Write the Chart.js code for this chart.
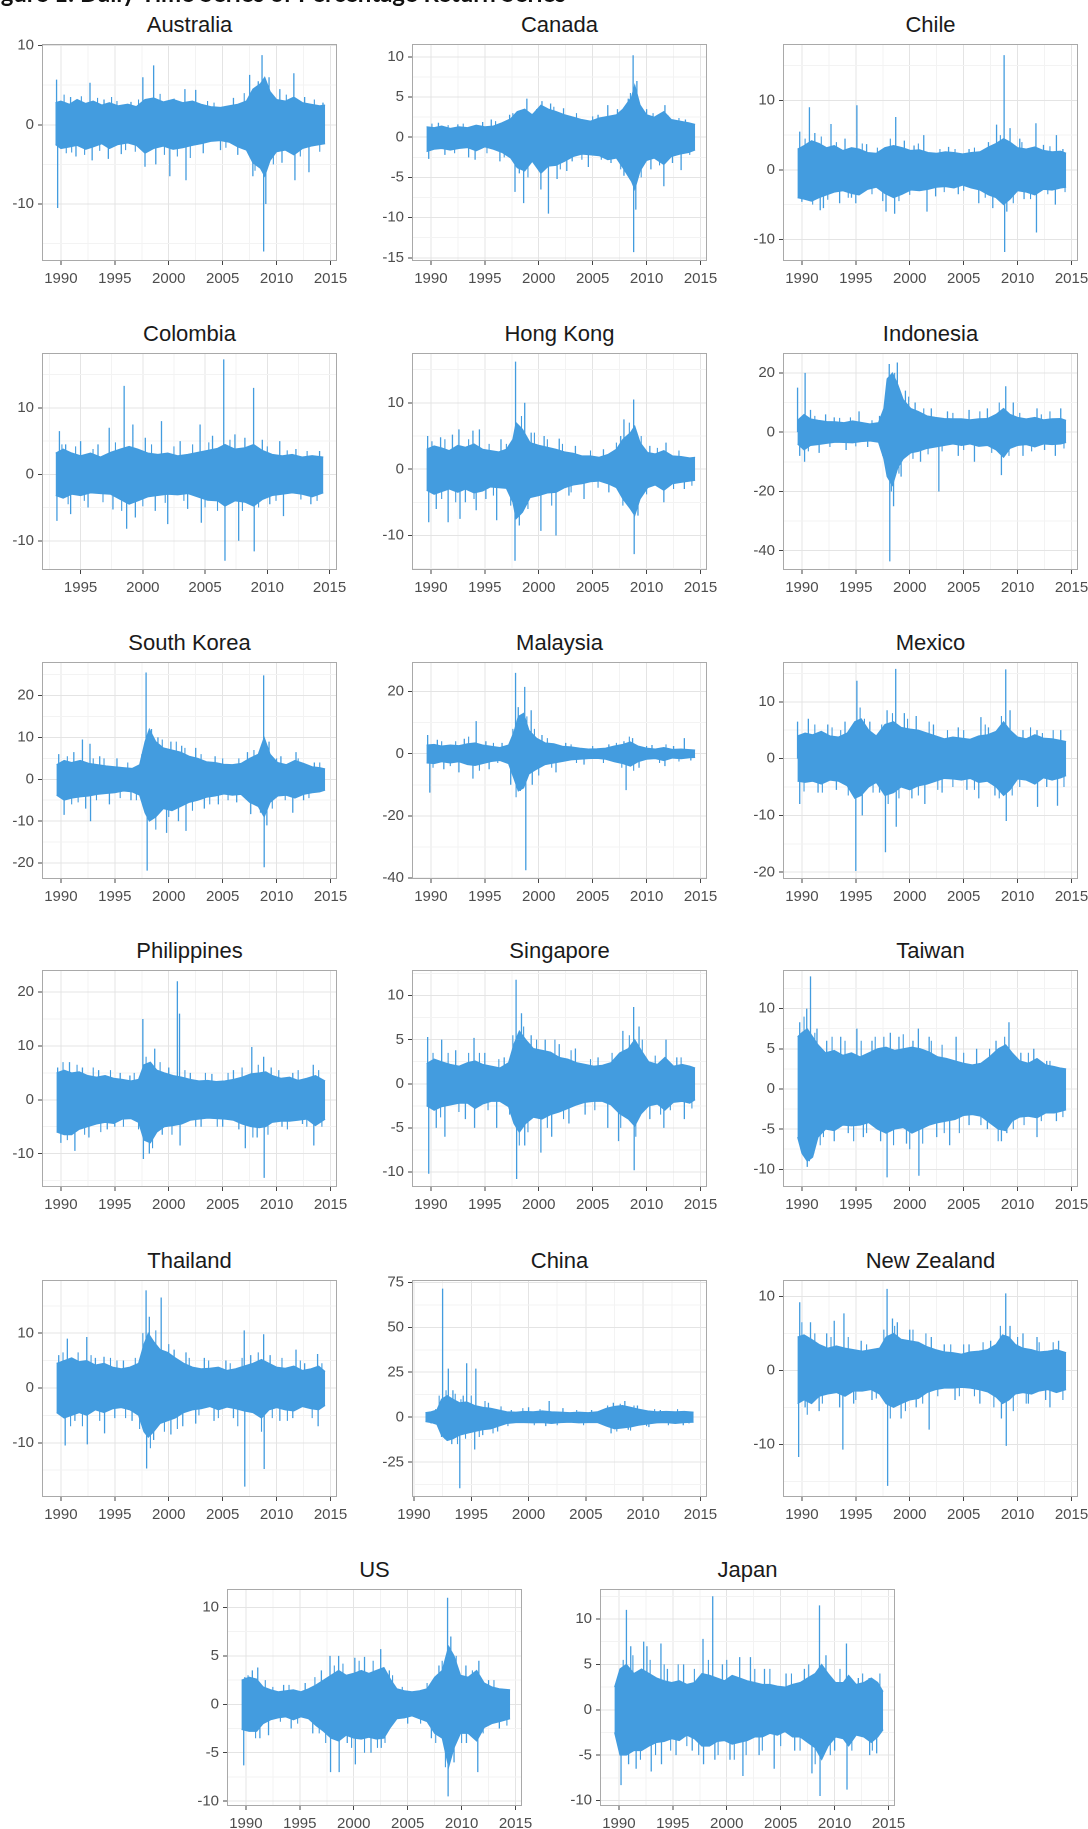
<!DOCTYPE html>
<html><head><meta charset="utf-8">
<script src="https://cdn.jsdelivr.net/npm/chart.js@4.4.1/dist/chart.umd.min.js"></script>
<style>
html,body{margin:0;padding:0;background:#fff;}
body{width:1088px;height:1829px;position:relative;overflow:hidden;font-family:"Liberation Sans",Arial,sans-serif;}
.ttl{position:absolute;font-size:22px;line-height:22px;color:#1a1a1a;text-align:center;white-space:nowrap;}
canvas{position:absolute;}
</style></head><body>
<canvas id="fig" width="1088" height="12" style="left:0;top:0;width:1088px;height:12px"></canvas>
<script>
// ---------- DATA (years, percentage returns) ----------
// *_band  = [year, upper envelope, lower envelope] of the dense daily return band
// *_spikes / *_minor = [year, extreme daily return]
const AUS_band=[[1989.5,2.8,-2.5],[1990.0,3.0,-3.0],[1990.8,2.6,-2.8],[1991.5,3.2,-2.6],[1992.3,2.7,-3.1],[1993.0,3.0,-2.8],[1993.8,2.5,-2.4],[1994.5,2.8,-3.0],[1995.3,2.4,-2.5],[1996.2,2.6,-2.3],[1997.0,2.3,-2.6],[1997.8,3.2,-3.6],[1998.6,3.4,-3.0],[1999.5,2.9,-2.7],[2000.4,3.2,-3.1],[2001.3,2.8,-2.9],[2002.2,3.0,-2.6],[2003.0,2.6,-2.4],[2003.9,2.3,-2.1],[2004.8,2.2,-2.0],[2005.6,2.4,-2.2],[2006.4,2.6,-2.8],[2007.2,3.0,-3.2],[2007.8,4.5,-4.8],[2008.5,5.2,-5.5],[2008.9,6.0,-6.5],[2009.4,4.2,-4.5],[2010.0,3.2,-3.4],[2010.8,3.0,-3.2],[2011.6,3.5,-3.8],[2012.4,2.8,-3.0],[2013.2,2.6,-2.7],[2014.0,2.4,-2.5],[2014.5,2.5,-2.4]];
const AUS_spikes=[[1989.6,5.7],[1989.7,-10.5],[1990.9,3.5],[1991.4,-4.0],[1992.7,5.3],[1992.9,-4.5],[1994.0,3.2],[1994.4,-4.3],[1995.6,-3.7],[1996.5,2.9],[1997.6,6.0],[1997.8,-5.3],[1998.6,7.5],[1998.8,-5.0],[2000.1,-6.5],[2000.5,3.3],[2001.5,4.5],[2001.6,-7.0],[2002.5,4.4],[2003.2,-3.6],[2004.8,-3.2],[2006.0,3.4],[2006.4,-3.8],[2007.5,6.3],[2007.8,-6.5],[2008.3,5.5],[2008.65,8.8],[2008.8,-16.0],[2009.0,-10.0],[2009.3,6.0],[2010.3,4.5],[2010.5,-4.8],[2011.6,6.5],[2011.7,-7.0],[2012.6,3.5],[2013.0,-6.0],[2014.3,2.8]];
const AUS_minor=[[1990.3,3.8],[1990.5,-3.6],[1991.0,-3.5],[1991.9,3.6],[1992.2,-3.8],[1993.4,3.4],[1993.6,-3.3],[1994.7,3.5],[1995.2,3.0],[1996.0,-3.2],[1996.9,-3.4],[1997.2,3.2],[1999.2,3.9],[1999.6,-3.8],[2000.8,-4.0],[2002.0,-4.2],[2003.6,3.0],[2004.2,2.8],[2005.3,-2.9],[2007.0,4.0],[2008.0,-5.8],[2009.7,-5.0],[2010.9,3.8],[2012.2,-4.0],[2013.5,3.2],[2014.0,-3.4]];

const CAN_band=[[1989.6,1.3,-1.8],[1990.3,1.2,-1.5],[1991.0,1.4,-1.4],[1991.8,1.1,-1.6],[1992.6,1.3,-1.4],[1993.4,1.2,-1.3],[1994.2,1.5,-1.7],[1995.0,1.3,-1.2],[1995.8,1.4,-1.5],[1996.6,1.8,-1.9],[1997.4,2.3,-2.6],[1998.0,3.2,-3.8],[1998.7,3.5,-4.2],[1999.4,2.8,-3.0],[2000.2,4.0,-4.5],[2000.9,3.5,-3.6],[2001.6,3.2,-3.5],[2002.4,2.8,-3.0],[2003.2,2.5,-2.4],[2004.0,2.2,-2.1],[2004.8,2.0,-2.2],[2005.6,2.4,-2.3],[2006.4,2.6,-2.8],[2007.2,2.8,-2.6],[2007.8,3.5,-3.8],[2008.6,5.0,-5.5],[2008.9,6.5,-6.5],[2009.4,4.0,-4.2],[2010.0,2.8,-2.9],[2010.7,2.5,-2.6],[2011.6,3.2,-3.4],[2012.3,2.2,-2.4],[2013.1,2.0,-2.1],[2013.9,1.8,-1.9],[2014.5,1.6,-1.6]];
const CAN_spikes=[[1989.8,-2.7],[1990.7,1.8],[1991.3,-2.2],[1992.5,1.6],[1993.5,-2.5],[1994.1,-2.8],[1994.8,1.9],[1995.6,2.2],[1996.4,-3.0],[1997.3,2.8],[1997.8,-6.8],[1998.2,-4.5],[1998.6,-8.2],[1998.9,4.8],[1999.5,3.0],[2000.2,-6.5],[2000.3,4.5],[2000.9,-9.5],[2001.1,4.2],[2001.7,-5.2],[2002.3,3.6],[2002.6,-4.2],[2003.1,-3.0],[2004.6,-3.7],[2005.5,2.8],[2006.4,4.0],[2006.7,-3.2],[2007.3,3.5],[2007.9,-4.8],[2008.3,4.8],[2008.75,10.2],[2008.8,-14.3],[2009.0,-9.0],[2009.1,7.0],[2010.0,3.5],[2010.4,-4.0],[2011.7,4.0],[2011.6,-6.1],[2012.4,-3.2],[2013.2,-4.1],[2013.6,2.2]];
const CAN_minor=[[1990.1,1.7],[1991.6,1.5],[1992.2,-2.0],[1993.0,1.7],[1995.2,-2.0],[1996.0,2.0],[1996.8,-2.5],[1997.6,3.0],[1999.0,-5.0],[1999.8,3.5],[2001.4,3.8],[2002.0,-4.0],[2003.5,3.0],[2004.0,-2.8],[2005.0,2.6],[2005.8,-2.8],[2007.6,-4.0],[2008.5,5.5],[2009.5,-5.0],[2010.6,3.0],[2011.2,-3.5],[2012.0,2.7],[2013.0,2.4],[2014.0,-2.2]];

const CHL_band=[[1989.6,3.0,-4.0],[1990.2,3.5,-4.2],[1990.9,4.2,-4.5],[1991.6,3.8,-4.0],[1992.3,3.2,-3.6],[1993.0,3.5,-3.2],[1993.8,2.8,-3.0],[1994.6,3.2,-3.4],[1995.3,3.0,-3.6],[1996.1,2.5,-2.8],[1996.9,2.4,-2.5],[1997.7,3.2,-3.4],[1998.5,3.5,-4.0],[1999.3,3.2,-3.5],[2000.1,2.8,-2.9],[2000.9,2.9,-3.0],[2001.7,2.5,-2.8],[2002.5,2.4,-2.5],[2003.3,2.6,-2.4],[2004.1,2.5,-2.6],[2004.9,2.3,-2.2],[2005.7,2.5,-2.6],[2006.5,2.6,-2.9],[2007.3,3.3,-3.6],[2008.0,3.8,-4.0],[2008.7,4.5,-5.0],[2009.3,4.0,-4.2],[2010.0,3.2,-3.0],[2010.8,3.0,-3.2],[2011.6,3.3,-3.6],[2012.4,2.8,-2.8],[2013.2,2.6,-2.9],[2014.0,2.7,-2.6],[2014.5,2.4,-2.5]];
const CHL_spikes=[[1989.8,5.5],[1990.0,-4.6],[1990.7,9.0],[1991.2,5.3],[1991.7,-5.8],[1992.0,-5.5],[1992.7,6.6],[1993.5,-4.8],[1994.0,4.5],[1994.6,-4.0],[1995.1,9.3],[1995.0,-4.8],[1996.0,3.7],[1997.5,-4.5],[1997.8,-6.0],[1998.6,-6.3],[1998.7,7.6],[1999.5,4.2],[2000.4,3.5],[2001.3,5.0],[2001.6,-6.0],[2002.4,-3.8],[2003.6,3.3],[2004.5,-3.5],[2005.5,3.0],[2006.4,-4.8],[2007.3,4.0],[2007.7,-5.5],[2008.05,6.5],[2008.75,16.5],[2008.8,-11.8],[2009.0,-6.0],[2009.3,6.0],[2010.2,4.5],[2010.6,-4.2],[2011.7,6.7],[2011.75,-9.0],[2012.4,3.6],[2013.6,5.0],[2013.5,-5.0],[2014.2,3.0]];
const CHL_minor=[[1990.3,4.5],[1991.0,-5.0],[1991.8,4.8],[1992.4,-4.3],[1993.2,4.0],[1994.3,-4.0],[1995.6,3.8],[1996.5,-3.5],[1997.0,3.2],[1998.2,4.5],[1999.0,-4.5],[2000.0,-3.6],[2000.8,3.8],[2002.8,3.0],[2003.2,-3.2],[2004.2,3.0],[2005.0,-3.0],[2006.0,3.2],[2007.0,-4.0],[2008.4,5.0],[2009.6,-4.8],[2010.4,4.0],[2011.2,-4.2],[2012.8,-3.5],[2013.0,3.4],[2014.4,-3.2]];

const COL_band=[[1993.0,3.2,-3.2],[1993.6,3.8,-3.6],[1994.3,3.2,-3.0],[1995.0,2.8,-3.2],[1995.8,3.2,-2.8],[1996.6,2.6,-2.9],[1997.4,3.3,-3.0],[1998.2,3.8,-3.8],[1998.9,4.2,-4.5],[1999.6,3.8,-4.0],[2000.4,3.2,-3.4],[2001.2,3.0,-3.2],[2002.0,3.2,-3.0],[2002.8,2.8,-3.1],[2003.6,3.0,-2.9],[2004.4,3.3,-3.4],[2005.2,3.6,-3.9],[2006.0,3.9,-4.0],[2006.6,4.5,-4.8],[2007.4,3.8,-4.0],[2008.2,4.0,-4.2],[2008.9,4.5,-4.8],[2009.6,3.6,-3.8],[2010.4,3.0,-3.2],[2011.2,2.8,-3.0],[2012.0,3.0,-2.8],[2012.8,2.6,-3.0],[2013.6,2.8,-3.4],[2014.5,2.6,-2.8]];
const COL_spikes=[[1993.1,-7.0],[1993.3,6.5],[1993.8,4.5],[1994.2,-6.0],[1995.0,5.0],[1995.6,-5.0],[1996.4,4.5],[1997.3,7.0],[1997.6,-5.3],[1998.5,13.3],[1998.7,-8.2],[1999.2,7.5],[1999.4,-6.5],[2000.2,5.5],[2001.0,-5.5],[2001.5,8.0],[2002.0,-7.5],[2003.0,5.0],[2003.6,-5.2],[2004.6,7.5],[2004.7,-7.3],[2005.6,5.8],[2006.5,17.3],[2006.6,-13.0],[2007.4,6.0],[2007.7,-10.0],[2008.2,5.5],[2008.9,13.0],[2008.95,-11.6],[2009.6,5.2],[2010.2,-4.5],[2011.0,5.0],[2011.3,-6.3],[2012.3,3.8],[2013.5,-4.5],[2014.2,3.5]];
const COL_minor=[[1993.5,4.5],[1994.0,-4.5],[1994.6,4.2],[1995.3,-4.0],[1996.0,3.8],[1996.8,-4.2],[1997.8,4.8],[1998.3,-5.5],[2000.0,-4.8],[2000.7,4.5],[2001.8,-4.3],[2002.5,4.2],[2003.3,-4.0],[2004.0,4.5],[2005.0,-5.0],[2005.3,4.8],[2006.0,-5.5],[2007.0,5.2],[2008.0,-5.5],[2009.3,-5.0],[2010.0,4.2],[2010.7,-4.0],[2011.6,3.6],[2012.7,-3.8],[2013.2,3.5],[2014.0,-4.0]];

const HKG_band=[[1989.6,3.0,-3.2],[1990.3,3.5,-3.8],[1991.0,3.2,-3.4],[1991.7,2.8,-3.0],[1992.5,3.6,-3.5],[1993.2,3.3,-3.0],[1994.0,3.8,-3.6],[1994.8,3.0,-3.3],[1995.5,2.8,-2.7],[1996.3,2.6,-2.8],[1997.0,3.0,-2.9],[1997.6,4.5,-5.0],[1997.9,7.0,-7.5],[1998.5,6.0,-6.5],[1999.2,4.0,-4.3],[2000.0,3.6,-4.0],[2000.8,3.3,-3.6],[2001.6,3.0,-3.5],[2002.4,2.6,-2.8],[2003.2,2.4,-2.4],[2004.0,2.0,-2.2],[2004.8,2.0,-1.9],[2005.6,1.8,-1.8],[2006.4,2.2,-2.2],[2007.2,3.0,-2.8],[2007.8,4.5,-4.5],[2008.5,5.5,-6.0],[2008.9,6.5,-7.0],[2009.4,4.0,-4.5],[2010.1,2.5,-2.8],[2010.8,2.3,-2.4],[2011.6,2.8,-3.2],[2012.4,2.0,-2.2],[2013.2,1.9,-2.0],[2014.0,1.7,-1.8],[2014.5,1.8,-1.7]];
const HKG_spikes=[[1989.7,5.0],[1989.8,-8.0],[1990.5,-6.0],[1990.9,4.8],[1991.6,-8.0],[1992.0,5.2],[1992.6,6.0],[1992.7,-7.5],[1993.2,-5.0],[1993.9,5.8],[1994.5,6.0],[1994.2,-6.2],[1995.1,-4.5],[1996.1,-7.7],[1996.5,4.5],[1997.85,16.2],[1997.8,-13.8],[1998.2,-8.5],[1998.7,10.0],[1999.3,5.5],[2000.2,-9.3],[2000.5,5.0],[2001.6,-10.0],[2001.9,4.6],[2002.8,-4.0],[2003.4,3.5],[2004.2,-4.5],[2006.0,3.0],[2006.5,-3.5],[2007.6,5.0],[2007.9,7.5],[2008.8,10.5],[2008.85,-12.8],[2009.2,-7.0],[2010.3,3.5],[2011.6,-5.0],[2011.8,4.0],[2013.5,-3.0]];
const HKG_minor=[[1990.1,4.2],[1991.3,4.5],[1991.0,-4.5],[1992.3,-5.0],[1993.5,4.5],[1994.0,-4.5],[1995.4,3.8],[1995.8,-4.0],[1997.0,3.8],[1997.4,-5.5],[1998.4,8.0],[1999.0,-6.0],[1999.6,5.5],[2000.8,4.5],[2001.2,-5.5],[2002.2,3.8],[2003.0,-3.5],[2004.8,2.8],[2005.5,-2.8],[2007.2,4.0],[2007.8,-5.5],[2008.4,7.0],[2009.5,5.0],[2010.0,-3.8],[2011.0,3.2],[2012.5,-3.0],[2013.0,2.8],[2014.2,-2.5]];

const IDN_band=[[1989.6,4.0,-4.0],[1990.2,6.0,-6.0],[1990.8,4.5,-4.5],[1991.5,4.0,-4.2],[1992.3,3.6,-3.8],[1993.1,3.5,-3.4],[1993.9,3.2,-3.5],[1994.7,3.8,-3.6],[1995.5,3.3,-3.2],[1996.3,2.8,-3.0],[1997.1,3.2,-3.4],[1997.6,8.0,-9.0],[1997.9,18.0,-15.0],[1998.4,20.0,-18.0],[1998.9,16.0,-12.0],[1999.4,11.0,-9.0],[2000.1,8.0,-7.0],[2000.8,7.0,-6.5],[2001.6,5.5,-5.5],[2002.4,5.0,-5.0],[2003.2,4.6,-4.5],[2004.0,4.5,-4.0],[2004.8,4.5,-4.5],[2005.6,4.2,-4.0],[2006.4,4.5,-4.8],[2007.2,4.6,-4.5],[2008.0,6.0,-6.0],[2008.7,8.0,-8.5],[2009.3,6.0,-5.5],[2010.0,5.0,-4.5],[2010.8,4.5,-4.2],[2011.6,5.0,-5.0],[2012.4,4.2,-4.0],[2013.2,4.5,-4.2],[2014.0,4.6,-4.0],[2014.5,4.0,-3.5]];
const IDN_spikes=[[1989.6,15.0],[1989.8,-8.0],[1990.25,-10.0],[1990.3,20.0],[1990.8,7.5],[1991.6,-7.0],[1992.2,6.0],[1993.0,5.0],[1994.1,-6.0],[1995.3,7.0],[1996.1,-5.0],[1997.2,5.5],[1998.1,23.0],[1998.15,-43.6],[1998.5,-25.0],[1998.85,23.5],[1999.2,-15.0],[1999.6,14.0],[2000.5,10.0],[2001.0,-10.0],[2002.0,8.0],[2002.7,-20.0],[2003.5,7.0],[2004.5,-8.0],[2005.5,7.5],[2006.0,-10.0],[2007.2,8.0],[2008.5,-14.5],[2008.9,15.5],[2009.6,10.0],[2010.5,-8.0],[2011.8,8.0],[2012.5,-6.0],[2013.5,-8.0],[2014.0,8.0]];
const IDN_minor=[[1990.6,-6.5],[1991.2,5.5],[1992.6,-5.0],[1993.5,4.8],[1994.5,5.0],[1995.0,-4.8],[1996.5,4.0],[1997.5,-8.0],[1997.7,10.0],[1998.3,-20.0],[1998.6,20.0],[1999.0,-14.0],[1999.9,12.0],[2000.3,-9.0],[2001.3,8.0],[2001.7,-7.5],[2003.0,-6.5],[2004.0,6.5],[2005.0,-6.0],[2006.5,7.0],[2007.6,-7.0],[2008.3,10.0],[2009.2,-8.0],[2010.2,6.5],[2011.3,-6.5],[2012.2,6.0],[2013.0,7.0],[2014.3,-5.5]];

const KOR_band=[[1989.6,3.5,-3.8],[1990.3,4.5,-5.0],[1991.0,4.0,-4.5],[1991.8,4.5,-4.2],[1992.6,3.8,-4.0],[1993.4,3.5,-3.6],[1994.2,3.2,-3.4],[1995.0,3.0,-3.2],[1995.8,2.8,-2.8],[1996.6,2.6,-3.0],[1997.3,3.5,-3.8],[1997.8,9.0,-8.0],[1998.2,12.0,-10.0],[1998.8,9.0,-9.0],[1999.5,7.5,-7.0],[2000.3,7.0,-7.5],[2001.1,6.5,-6.5],[2001.9,5.5,-5.5],[2002.7,5.0,-5.0],[2003.5,4.2,-4.3],[2004.3,4.0,-4.0],[2005.1,3.6,-3.5],[2005.9,3.5,-3.8],[2006.7,3.8,-3.6],[2007.5,5.0,-5.5],[2008.3,6.0,-6.5],[2008.85,10.0,-9.0],[2009.4,6.0,-5.5],[2010.1,4.0,-4.0],[2010.9,3.5,-3.8],[2011.7,4.5,-4.5],[2012.5,3.8,-3.6],[2013.3,3.0,-3.2],[2014.0,2.8,-3.0],[2014.5,2.5,-2.6]];
const KOR_spikes=[[1989.8,6.0],[1990.3,-8.5],[1991.2,6.5],[1992.0,9.5],[1992.3,-7.0],[1992.7,8.5],[1992.75,-10.0],[1993.6,5.5],[1994.5,-6.0],[1995.2,5.0],[1996.5,-5.0],[1997.9,25.5],[1998.0,-21.8],[1998.4,12.0],[1999.0,10.0],[1999.8,-12.8],[2000.2,9.0],[2000.9,-10.0],[2001.6,-12.3],[2001.2,8.0],[2002.5,7.5],[2003.3,-7.0],[2004.3,5.5],[2004.6,-6.0],[2006.3,-5.5],[2007.3,6.5],[2007.6,-8.3],[2008.8,24.8],[2008.85,-21.0],[2009.1,-11.0],[2009.3,9.0],[2010.4,5.5],[2011.5,-8.0],[2011.8,6.5],[2012.5,-5.0],[2013.5,4.0]];
const KOR_minor=[[1990.6,5.5],[1991.0,-6.0],[1991.6,-5.5],[1993.0,5.0],[1993.3,-5.0],[1994.0,5.0],[1995.5,-4.5],[1996.2,4.0],[1997.0,-5.0],[1997.5,6.0],[1998.8,-12.0],[1999.4,9.5],[2000.0,-9.0],[2000.7,9.0],[2001.5,7.5],[2002.2,-7.5],[2003.0,6.0],[2003.8,-6.0],[2005.0,5.0],[2005.5,-5.0],[2006.5,5.0],[2007.9,7.0],[2008.5,-8.0],[2009.6,-7.0],[2010.0,5.0],[2010.8,-5.0],[2012.0,5.0],[2013.0,-4.5],[2014.0,4.0]];

const MYS_band=[[1989.6,2.8,-3.0],[1990.3,3.0,-3.2],[1991.0,2.5,-2.6],[1991.8,2.8,-3.0],[1992.6,2.6,-2.6],[1993.4,3.2,-3.5],[1994.1,3.5,-3.8],[1994.8,2.8,-3.2],[1995.6,2.4,-2.5],[1996.4,2.0,-2.2],[1997.2,2.8,-3.2],[1997.7,7.0,-8.0],[1998.1,12.0,-12.0],[1998.6,13.0,-11.0],[1999.1,7.5,-6.5],[1999.8,5.0,-5.0],[2000.6,3.5,-3.5],[2001.4,3.2,-3.0],[2002.2,2.4,-2.5],[2003.0,2.2,-2.0],[2003.8,1.8,-1.8],[2004.6,1.5,-1.6],[2005.4,1.6,-1.5],[2006.2,1.8,-1.8],[2007.0,2.5,-2.6],[2007.8,3.0,-3.2],[2008.5,3.8,-4.0],[2009.2,2.5,-2.6],[2010.0,1.8,-1.8],[2010.8,1.5,-1.6],[2011.6,2.0,-2.2],[2012.4,1.4,-1.4],[2013.2,1.5,-1.6],[2014.0,1.3,-1.3],[2014.5,1.2,-1.2]];
const MYS_spikes=[[1989.7,6.0],[1989.9,-12.5],[1990.6,4.5],[1991.2,-5.0],[1992.6,-6.0],[1993.1,4.8],[1993.9,-8.0],[1994.2,10.5],[1995.1,4.0],[1995.4,-5.0],[1996.6,3.5],[1997.4,-10.0],[1997.85,26.0],[1998.1,15.0],[1998.7,21.5],[1998.8,-37.5],[1999.3,14.0],[1999.4,-10.0],[2000.3,6.0],[2001.6,-6.0],[2002.5,3.5],[2004.2,-3.5],[2006.5,3.0],[2007.9,4.0],[2008.1,-11.7],[2008.7,5.0],[2009.3,-4.5],[2010.5,2.8],[2011.7,-4.0],[2012.5,2.5],[2013.5,5.0],[2014.1,-2.2]];
const MYS_minor=[[1990.2,-4.5],[1991.0,4.0],[1991.8,-4.0],[1992.3,4.0],[1993.5,5.5],[1994.5,-5.5],[1995.8,3.5],[1996.2,-3.0],[1997.6,8.0],[1997.9,-14.0],[1998.3,-12.0],[1998.9,12.0],[1999.6,8.0],[2000.0,-7.0],[2000.8,5.0],[2001.2,-4.5],[2003.0,3.0],[2003.5,-3.0],[2005.0,2.5],[2006.0,-3.0],[2007.2,3.5],[2007.7,-4.5],[2008.4,5.5],[2008.8,-5.5],[2010.0,2.5],[2011.2,-3.0],[2011.8,3.0],[2013.0,-2.5]];

const MEX_band=[[1989.6,4.0,-4.0],[1990.3,4.5,-4.2],[1991.0,4.2,-4.0],[1991.8,4.8,-4.5],[1992.6,4.0,-3.8],[1993.4,3.8,-4.0],[1994.2,4.5,-4.8],[1994.9,6.5,-7.0],[1995.5,7.0,-6.5],[1996.2,5.0,-5.0],[1996.9,4.0,-4.2],[1997.7,6.0,-6.5],[1998.5,6.5,-6.0],[1999.2,5.5,-5.0],[2000.0,5.2,-5.5],[2000.8,5.0,-4.8],[2001.6,4.5,-4.5],[2002.4,4.0,-4.0],[2003.2,3.5,-3.5],[2004.0,3.8,-3.6],[2004.8,3.6,-3.8],[2005.6,3.4,-3.5],[2006.4,4.0,-4.2],[2007.2,4.2,-4.0],[2008.0,4.8,-5.0],[2008.7,6.5,-6.5],[2009.3,5.0,-5.5],[2010.0,3.8,-3.6],[2010.8,3.5,-3.8],[2011.6,4.2,-4.5],[2012.4,3.6,-3.4],[2013.2,3.5,-3.8],[2014.0,3.2,-3.4],[2014.5,3.0,-3.0]];
const MEX_spikes=[[1989.6,6.5],[1989.8,-8.0],[1990.6,7.0],[1991.5,-6.0],[1992.4,6.0],[1993.2,-5.5],[1994.0,6.5],[1994.7,-6.0],[1995.1,13.7],[1995.0,-19.8],[1995.6,-10.0],[1996.3,6.5],[1997.2,-6.0],[1997.75,-16.5],[1997.9,8.5],[1998.7,15.8],[1998.75,-12.0],[1999.5,8.0],[2000.2,-7.0],[2000.6,7.5],[2001.4,-8.0],[2002.2,6.0],[2003.0,-6.0],[2004.5,5.5],[2005.3,-5.5],[2006.6,7.3],[2006.4,-7.0],[2007.3,5.5],[2007.9,-6.5],[2008.9,15.7],[2008.95,-11.0],[2009.3,8.5],[2010.5,5.0],[2011.8,5.0],[2011.85,-8.5],[2012.7,-5.0],[2013.7,-8.3],[2014.0,5.0]];
const MEX_minor=[[1990.2,-5.8],[1991.2,6.0],[1991.9,-6.0],[1992.8,5.5],[1993.6,5.0],[1994.3,-6.5],[1995.4,9.0],[1995.8,7.0],[1996.6,-6.0],[1997.4,6.0],[1998.0,-8.0],[1998.4,8.0],[1999.0,-7.0],[1999.8,7.0],[2000.8,-6.5],[2001.8,6.5],[2002.6,-5.5],[2003.5,5.0],[2004.0,-5.0],[2005.0,5.0],[2006.0,-5.5],[2007.0,6.0],[2008.3,-7.0],[2008.5,7.5],[2009.5,-6.5],[2010.2,-5.0],[2011.2,5.5],[2012.3,4.5],[2013.3,5.0],[2014.3,-5.0]];

const PHL_band=[[1989.6,5.0,-6.0],[1990.3,5.5,-6.5],[1991.0,5.0,-6.5],[1991.7,5.2,-5.5],[1992.5,4.5,-5.0],[1993.3,4.2,-4.5],[1994.1,4.5,-4.2],[1994.9,4.0,-4.4],[1995.7,3.8,-3.6],[1996.5,3.5,-3.5],[1997.2,3.8,-4.2],[1997.7,6.5,-7.5],[1998.3,7.0,-8.0],[1998.9,5.5,-6.0],[1999.6,5.0,-5.0],[2000.4,4.5,-4.8],[2001.2,4.2,-4.5],[2002.0,3.8,-3.8],[2002.8,3.5,-3.6],[2003.6,3.6,-3.4],[2004.4,3.4,-3.5],[2005.2,3.5,-3.6],[2006.0,3.8,-3.8],[2006.8,4.2,-4.5],[2007.6,4.8,-5.0],[2008.4,5.0,-5.2],[2009.0,5.2,-5.0],[2009.6,4.5,-4.2],[2010.4,4.0,-4.0],[2011.2,4.2,-4.0],[2012.0,3.6,-3.8],[2012.8,4.0,-3.6],[2013.6,4.5,-4.8],[2014.5,3.5,-3.6]];
const PHL_spikes=[[1989.7,6.0],[1990.0,-8.0],[1990.8,7.0],[1991.3,-9.5],[1992.0,6.0],[1992.6,-7.0],[1993.5,5.5],[1994.3,-5.5],[1995.0,-5.0],[1995.5,5.0],[1996.4,4.5],[1997.6,15.0],[1997.65,-11.0],[1998.2,-10.0],[1998.7,9.5],[1999.4,-6.5],[2000.0,6.0],[2000.8,22.0],[2001.0,16.0],[2001.05,-8.5],[2002.0,5.0],[2003.0,-5.0],[2004.0,4.8],[2005.0,-5.0],[2006.0,5.5],[2006.5,-5.5],[2007.1,-9.0],[2007.7,9.8],[2008.2,-7.0],[2008.8,8.0],[2008.85,-14.5],[2009.5,6.0],[2010.5,-5.0],[2011.5,5.0],[2012.4,-4.5],[2013.4,6.5],[2013.45,-8.5]];
const PHL_minor=[[1990.2,7.0],[1990.6,-7.5],[1991.5,6.5],[1992.2,-6.5],[1993.0,6.0],[1993.7,-6.0],[1994.6,5.5],[1995.8,-5.0],[1996.8,5.0],[1997.2,-5.5],[1997.9,8.0],[1998.5,-9.0],[1999.2,7.0],[2000.3,-6.5],[2001.5,5.5],[2002.5,-5.0],[2003.4,5.0],[2004.5,-5.0],[2005.5,5.0],[2006.8,6.0],[2007.8,-7.0],[2008.3,6.5],[2009.2,-6.5],[2010.2,5.5],[2011.0,-5.5],[2012.0,5.5],[2012.8,-5.0],[2013.9,5.5],[2014.2,-5.0]];

const SGP_band=[[1989.6,2.3,-2.5],[1990.3,2.8,-3.0],[1991.0,2.5,-2.6],[1991.8,2.2,-2.4],[1992.6,2.0,-2.2],[1993.4,2.4,-2.2],[1994.1,2.6,-2.8],[1994.8,2.2,-2.3],[1995.6,2.0,-2.0],[1996.4,1.8,-2.0],[1997.2,2.4,-2.6],[1997.7,4.5,-4.5],[1998.2,6.0,-5.5],[1998.8,5.0,-4.5],[1999.5,4.0,-3.8],[2000.3,3.8,-4.0],[2001.1,3.6,-3.5],[2001.9,3.0,-3.2],[2002.7,2.8,-2.8],[2003.5,2.4,-2.4],[2004.3,2.2,-2.1],[2005.1,2.0,-2.0],[2005.9,2.1,-2.0],[2006.7,2.4,-2.4],[2007.5,3.5,-3.4],[2008.3,4.0,-4.0],[2008.9,5.0,-4.8],[2009.5,3.8,-3.4],[2010.2,2.5,-2.5],[2011.0,2.2,-2.3],[2011.7,3.0,-3.0],[2012.5,2.0,-2.1],[2013.3,2.2,-2.0],[2014.0,2.0,-2.2],[2014.5,1.8,-1.8]];
const SGP_spikes=[[1989.7,5.3],[1989.8,-10.2],[1990.5,-5.0],[1991.0,5.0],[1991.3,-6.0],[1992.3,3.8],[1993.2,-4.0],[1994.0,5.2],[1994.05,-5.0],[1995.0,3.5],[1996.1,-5.0],[1996.8,3.0],[1997.9,11.8],[1997.95,-10.8],[1998.4,8.0],[1998.7,-7.0],[1999.3,5.5],[2000.2,-7.8],[2000.6,5.0],[2001.2,-6.0],[2001.9,4.5],[2002.8,-4.5],[2003.4,4.0],[2004.3,-3.5],[2005.5,3.0],[2006.4,-5.0],[2007.4,-6.5],[2007.8,6.0],[2008.8,8.7],[2008.85,-9.8],[2009.3,6.5],[2010.3,-4.0],[2011.6,-5.0],[2011.8,5.0],[2012.8,3.0],[2013.5,-4.0]];
const SGP_minor=[[1990.2,3.5],[1990.9,-3.8],[1991.6,3.5],[1992.6,-3.2],[1993.5,3.5],[1994.5,3.5],[1995.3,-3.0],[1996.3,2.8],[1997.3,-3.5],[1997.6,5.5],[1998.2,-7.0],[1998.6,6.5],[1999.0,-5.5],[1999.8,5.0],[2000.8,-5.0],[2001.5,5.0],[2002.3,-4.0],[2003.0,3.8],[2004.8,2.8],[2005.2,-3.0],[2006.8,3.5],[2007.6,-5.0],[2008.4,5.5],[2009.0,-6.0],[2009.6,5.0],[2010.8,3.2],[2011.3,-3.5],[2012.2,-3.0],[2013.2,3.0],[2014.2,-2.8]];

const TWN_band=[[1989.6,6.5,-6.0],[1990.0,7.0,-8.0],[1990.5,7.5,-9.0],[1991.0,6.5,-8.5],[1991.5,5.5,-6.0],[1992.2,4.5,-5.0],[1993.0,4.8,-5.2],[1993.8,4.2,-4.5],[1994.6,4.5,-4.6],[1995.4,4.0,-4.5],[1996.2,4.5,-4.2],[1997.0,5.0,-5.0],[1997.8,5.2,-5.5],[1998.6,4.8,-5.0],[1999.4,5.0,-4.8],[2000.2,5.2,-5.5],[2001.0,5.0,-5.0],[2001.8,4.6,-4.5],[2002.6,4.0,-4.2],[2003.4,3.8,-4.0],[2004.2,3.5,-3.8],[2005.0,3.2,-3.3],[2005.8,3.0,-3.2],[2006.6,3.2,-3.4],[2007.4,4.0,-4.2],[2008.2,5.0,-5.0],[2008.9,5.5,-5.2],[2009.5,4.5,-4.0],[2010.2,3.5,-3.5],[2011.0,3.2,-3.4],[2011.8,3.8,-3.6],[2012.6,3.0,-3.0],[2013.4,2.8,-3.0],[2014.0,2.6,-2.8],[2014.5,2.5,-2.6]];
const TWN_spikes=[[1989.8,8.3],[1990.0,-7.0],[1990.45,10.0],[1990.5,-9.7],[1990.8,14.0],[1991.1,-8.0],[1991.4,7.5],[1992.3,6.0],[1993.0,-6.5],[1993.6,6.5],[1994.3,-5.5],[1995.1,7.5],[1995.7,-6.0],[1996.5,6.0],[1997.3,-6.5],[1997.9,-11.0],[1998.2,7.0],[1999.0,6.5],[1999.7,-6.8],[2000.3,6.0],[2000.8,7.5],[2000.85,-10.8],[2001.8,6.5],[2002.5,-6.0],[2003.7,-7.0],[2004.3,6.5],[2005.5,-4.5],[2006.2,5.0],[2007.2,-5.0],[2008.0,6.0],[2008.5,-6.5],[2009.2,8.3],[2009.0,-5.5],[2010.3,4.5],[2011.5,5.0],[2011.8,-6.0],[2012.7,3.5],[2013.6,-4.0]];
const TWN_minor=[[1990.2,9.0],[1990.7,-9.0],[1991.2,7.0],[1991.7,-7.0],[1992.0,-6.0],[1992.8,6.5],[1994.0,6.0],[1994.8,-6.5],[1995.5,6.0],[1996.0,-5.5],[1996.8,6.5],[1997.6,6.5],[1998.5,-7.0],[1999.4,6.8],[2000.0,-7.5],[2001.2,-6.8],[2002.0,6.0],[2003.0,5.5],[2003.2,-5.5],[2004.6,-5.5],[2005.0,4.5],[2006.6,-4.5],[2007.4,5.0],[2008.2,-6.5],[2008.8,6.5],[2009.6,-5.0],[2010.6,-4.5],[2011.0,4.5],[2012.2,-4.0],[2013.0,3.5],[2014.2,-3.5]];

const THA_band=[[1989.6,4.5,-4.5],[1990.3,5.0,-5.5],[1991.0,5.5,-5.0],[1991.7,4.8,-4.5],[1992.4,5.0,-5.0],[1993.2,4.2,-4.0],[1994.0,4.5,-4.5],[1994.8,3.8,-3.8],[1995.6,3.5,-3.6],[1996.4,3.8,-4.0],[1997.2,4.5,-5.0],[1997.7,8.0,-8.0],[1998.1,10.0,-9.0],[1998.6,8.5,-8.0],[1999.2,7.0,-6.5],[1999.9,6.5,-6.0],[2000.6,5.5,-5.5],[2001.4,4.5,-4.5],[2002.2,3.8,-4.0],[2003.0,3.5,-3.8],[2003.8,3.6,-3.4],[2004.6,3.8,-4.0],[2005.4,3.2,-3.5],[2006.2,3.5,-3.8],[2007.0,4.0,-4.2],[2007.8,4.5,-4.5],[2008.6,5.2,-5.5],[2009.3,4.5,-4.0],[2010.0,3.8,-3.6],[2010.8,3.6,-4.0],[2011.6,4.0,-4.2],[2012.4,3.2,-3.4],[2013.2,3.5,-3.8],[2013.9,4.0,-4.0],[2014.5,3.0,-3.2]];
const THA_spikes=[[1989.8,6.0],[1990.4,-10.5],[1990.6,9.0],[1991.3,-6.0],[1992.4,9.3],[1992.45,-10.3],[1993.2,5.5],[1994.0,5.7],[1994.05,-8.3],[1995.0,-5.5],[1995.8,5.0],[1996.6,-6.0],[1997.9,17.8],[1997.95,-14.7],[1998.2,13.0],[1998.6,-9.5],[1999.3,16.5],[2000.2,-8.5],[2000.5,7.0],[2001.3,-7.0],[2001.6,6.5],[2002.5,-6.5],[2003.3,5.5],[2004.2,-6.0],[2005.3,5.0],[2006.0,-5.5],[2007.0,10.5],[2007.05,-18.0],[2007.6,6.0],[2008.8,9.8],[2008.85,-14.8],[2009.4,6.0],[2010.3,-6.0],[2011.8,7.0],[2011.5,-5.5],[2012.6,4.5],[2013.8,6.2],[2013.85,-7.0]];
const THA_minor=[[1990.2,6.5],[1990.9,-7.0],[1991.6,6.5],[1992.0,-7.0],[1992.8,6.0],[1993.6,-6.0],[1994.6,5.5],[1995.2,5.0],[1996.0,-5.5],[1996.9,5.5],[1997.3,-7.5],[1997.6,10.0],[1998.3,-11.0],[1998.8,10.5],[1999.6,-8.0],[2000.0,8.0],[2000.8,-7.5],[2001.9,5.5],[2002.8,-5.0],[2003.7,5.0],[2004.6,-5.5],[2005.7,4.5],[2006.4,-7.0],[2006.8,5.5],[2008.3,6.5],[2008.6,-8.0],[2009.6,-5.5],[2010.5,5.5],[2011.0,-6.0],[2012.2,5.0],[2013.3,-5.5],[2014.2,4.5]];

const CHN_band=[[1991.0,2.5,-2.5],[1991.5,3.0,-3.0],[1992.0,4.0,-4.0],[1992.4,10.0,-10.0],[1992.9,12.0,-13.0],[1993.4,10.0,-12.0],[1994.0,8.0,-10.0],[1994.6,8.5,-9.0],[1995.3,6.5,-8.0],[1996.0,5.5,-7.0],[1996.7,5.0,-6.5],[1997.4,4.0,-5.0],[1998.1,3.0,-3.5],[1998.9,2.8,-3.0],[1999.6,3.2,-3.0],[2000.4,3.0,-3.2],[2001.2,3.5,-3.0],[2002.0,3.0,-3.5],[2002.8,2.8,-3.0],[2003.6,2.5,-2.8],[2004.4,2.8,-3.2],[2005.2,2.5,-3.0],[2006.0,3.0,-3.0],[2006.8,5.0,-5.0],[2007.5,6.0,-6.5],[2008.2,6.5,-6.0],[2008.9,5.5,-5.5],[2009.6,4.5,-4.5],[2010.4,3.5,-3.8],[2011.2,3.0,-3.2],[2012.0,3.2,-3.0],[2012.8,3.0,-3.5],[2013.6,3.2,-3.0],[2014.4,2.8,-2.8]];
const CHN_spikes=[[1991.5,-3.5],[1991.9,4.5],[1992.5,71.5],[1992.7,-12.0],[1993.0,27.0],[1993.3,-15.0],[1993.4,15.0],[1994.0,-39.5],[1994.3,12.0],[1994.6,30.0],[1995.3,-18.0],[1995.4,27.0],[1996.0,-10.0],[1996.5,8.0],[1997.3,-8.0],[1998.5,4.0],[2000.0,5.5],[2001.5,-5.0],[2001.8,9.0],[2003.0,5.0],[2005.5,4.0],[2006.5,-4.0],[2007.2,-9.0],[2007.4,8.0],[2008.4,9.0],[2008.7,-7.0],[2009.5,6.5],[2010.5,-5.5],[2011.5,4.0],[2013.5,-4.5]];
const CHN_minor=[[1992.2,12.0],[1992.4,-11.0],[1992.8,15.0],[1993.1,-12.0],[1993.6,13.0],[1993.8,-15.0],[1994.1,10.0],[1994.5,-12.0],[1995.0,12.0],[1995.7,-11.0],[1996.2,9.0],[1996.9,-9.0],[1997.6,6.0],[1998.2,-5.0],[1999.5,5.0],[2000.5,-4.5],[2001.0,4.5],[2002.5,-4.5],[2004.2,4.0],[2004.8,-4.5],[2006.9,6.5],[2007.7,-8.0],[2008.0,7.5],[2008.9,-7.5],[2009.2,6.5],[2010.3,-5.0],[2011.0,4.5],[2012.2,-4.5],[2013.0,4.5],[2014.0,-3.5]];

const NZL_band=[[1989.6,4.5,-4.5],[1990.2,4.8,-4.0],[1990.9,4.2,-4.5],[1991.6,3.5,-3.5],[1992.4,3.0,-3.2],[1993.2,3.3,-3.0],[1994.0,3.0,-3.5],[1994.8,2.8,-2.8],[1995.6,2.6,-2.8],[1996.4,2.8,-2.6],[1997.2,3.0,-3.2],[1997.8,4.5,-4.5],[1998.5,5.0,-5.0],[1999.2,4.2,-4.5],[2000.0,4.0,-4.0],[2000.8,3.8,-3.8],[2001.6,3.2,-3.0],[2002.4,2.8,-2.6],[2003.2,2.5,-2.4],[2004.0,2.4,-2.4],[2004.8,2.2,-2.3],[2005.6,2.5,-2.4],[2006.4,2.6,-2.6],[2007.2,2.8,-2.9],[2008.0,3.5,-3.6],[2008.6,4.8,-4.5],[2009.2,4.5,-4.0],[2009.8,3.5,-3.2],[2010.5,3.0,-3.0],[2011.3,2.8,-3.2],[2012.0,2.5,-2.8],[2012.8,2.6,-2.6],[2013.6,2.8,-3.0],[2014.5,2.4,-2.6]];
const NZL_spikes=[[1989.7,-11.7],[1989.8,9.2],[1990.3,-5.0],[1990.8,6.5],[1991.6,-5.5],[1992.3,5.0],[1993.0,6.7],[1993.5,-5.0],[1993.8,-10.7],[1993.9,7.7],[1994.8,-4.5],[1995.5,4.0],[1996.5,-4.0],[1997.9,11.0],[1997.95,-15.6],[1998.4,7.0],[1998.85,6.5],[1999.2,-6.5],[2000.0,5.5],[2000.6,-5.0],[2001.8,-8.0],[2002.0,4.5],[2003.2,3.5],[2004.2,-4.0],[2005.5,3.5],[2006.5,-4.5],[2007.5,4.0],[2008.5,-6.5],[2008.9,10.4],[2008.95,-10.2],[2009.3,6.0],[2010.5,5.0],[2011.0,-4.5],[2011.8,4.5],[2012.6,-4.0],[2013.0,-5.0],[2013.8,4.0]];
const NZL_minor=[[1990.0,6.5],[1990.5,-6.0],[1991.2,5.0],[1991.9,-4.5],[1992.7,4.5],[1994.3,4.5],[1995.0,-4.0],[1996.0,3.5],[1996.9,-3.8],[1997.6,5.5],[1998.2,-6.5],[1998.6,6.0],[1999.6,-5.5],[2000.3,5.5],[2001.2,-4.5],[2001.5,5.0],[2002.6,-3.5],[2003.8,3.5],[2004.6,-3.5],[2005.0,3.5],[2006.0,-3.5],[2006.8,3.8],[2007.8,-5.0],[2008.4,6.0],[2009.6,-5.5],[2010.0,4.5],[2010.8,-4.5],[2012.0,3.8],[2013.3,3.8],[2014.2,-4.0]];

const USA_band=[[1989.6,2.5,-2.6],[1990.3,2.8,-2.8],[1991.0,2.6,-2.8],[1991.6,1.8,-2.0],[1992.3,1.5,-1.6],[1993.0,1.3,-1.4],[1993.7,1.4,-1.3],[1994.4,1.5,-1.6],[1995.1,1.3,-1.3],[1995.8,1.6,-1.5],[1996.5,2.0,-2.2],[1997.2,2.5,-2.8],[1997.9,3.0,-3.5],[1998.6,3.5,-3.8],[1999.3,3.0,-3.2],[2000.0,3.2,-3.5],[2000.7,3.5,-3.6],[2001.4,3.2,-3.4],[2002.1,3.5,-3.6],[2002.8,3.8,-3.5],[2003.4,2.6,-2.4],[2004.0,1.6,-1.5],[2004.7,1.4,-1.4],[2005.4,1.3,-1.2],[2006.1,1.4,-1.5],[2006.8,1.6,-1.8],[2007.5,2.8,-3.0],[2008.2,3.5,-3.5],[2008.8,6.0,-6.5],[2009.3,5.0,-4.5],[2009.9,3.0,-3.0],[2010.6,2.8,-3.0],[2011.4,3.5,-3.8],[2012.1,2.2,-2.4],[2012.8,1.8,-2.0],[2013.5,1.6,-1.8],[2014.5,1.5,-1.5]];
const USA_spikes=[[1989.8,-6.3],[1989.9,2.8],[1990.6,3.5],[1991.1,3.8],[1991.3,-3.5],[1992.1,-3.2],[1993.5,2.0],[1994.2,-2.5],[1995.5,2.2],[1996.2,-3.0],[1997.0,3.5],[1997.8,5.0],[1997.85,-7.0],[1998.6,5.0],[1998.65,-7.0],[1999.4,-4.0],[2000.1,4.8],[2000.15,-6.2],[2001.0,4.9],[2001.6,-5.0],[2002.5,5.7],[2002.55,-4.5],[2003.3,3.5],[2005.0,-2.0],[2007.2,-3.5],[2007.9,4.0],[2008.7,11.0],[2008.75,-9.5],[2009.0,7.0],[2009.3,-6.0],[2010.4,4.0],[2010.45,-4.0],[2011.5,-7.0],[2011.6,4.5],[2012.5,2.5],[2013.5,-2.5]];
const USA_minor=[[1990.2,3.0],[1990.9,-3.5],[1991.8,2.5],[1992.5,1.8],[1993.2,-1.8],[1994.0,2.0],[1994.8,-2.0],[1996.4,2.8],[1996.8,-3.0],[1997.4,-4.0],[1998.2,4.0],[1999.0,4.2],[1999.8,-4.5],[2000.5,4.5],[2001.0,-5.0],[2001.8,4.5],[2002.2,-4.5],[2002.9,-4.0],[2003.6,3.0],[2004.5,1.8],[2006.2,-2.0],[2006.8,2.2],[2007.6,-4.0],[2008.2,4.5],[2008.5,-6.5],[2009.5,5.0],[2010.0,-4.0],[2011.0,3.5],[2012.0,-3.0],[2013.0,2.5],[2014.2,-2.2]];

const JPN_band=[[1989.6,2.5,-2.5],[1990.1,4.5,-5.0],[1990.7,5.0,-5.0],[1991.4,4.0,-4.5],[1992.1,4.5,-4.5],[1992.8,4.0,-4.0],[1993.5,3.5,-3.6],[1994.2,3.2,-3.5],[1994.9,3.0,-3.2],[1995.6,3.2,-3.4],[1996.3,2.8,-2.8],[1997.0,3.0,-3.2],[1997.7,4.0,-4.0],[1998.4,3.8,-4.0],[1999.1,3.5,-3.5],[1999.8,3.2,-3.4],[2000.5,3.8,-3.8],[2001.2,3.5,-3.6],[2001.9,3.2,-3.4],[2002.6,3.0,-3.0],[2003.3,2.8,-3.0],[2004.0,2.8,-2.6],[2004.7,2.6,-2.8],[2005.4,2.5,-2.4],[2006.1,2.8,-3.0],[2006.8,3.0,-3.0],[2007.5,3.5,-3.6],[2008.2,4.0,-4.2],[2008.8,5.0,-5.5],[2009.4,4.0,-4.0],[2010.1,3.0,-3.0],[2010.8,3.0,-3.2],[2011.3,3.8,-4.0],[2012.0,2.8,-2.8],[2012.7,3.0,-3.0],[2013.4,3.5,-3.6],[2014.0,3.0,-3.0],[2014.5,2.0,-2.2]];
const JPN_spikes=[[1990.0,2.8],[1990.2,-8.3],[1990.7,11.0],[1990.9,-6.0],[1991.1,7.0],[1991.6,-6.5],[1992.3,7.5],[1992.6,7.0],[1993.0,-6.8],[1993.9,7.3],[1993.95,-6.0],[1994.5,4.5],[1995.3,-5.0],[1996.0,5.0],[1996.8,-4.5],[1997.8,7.8],[1997.85,-6.0],[1998.7,12.5],[1998.9,-5.5],[1999.6,5.0],[2000.3,-5.5],[2001.2,5.8],[2001.5,-7.3],[2002.2,5.8],[2003.0,-5.0],[2003.5,4.5],[2004.4,-6.5],[2005.5,4.0],[2006.3,-4.5],[2007.2,4.5],[2007.9,-7.0],[2008.6,11.5],[2008.65,-9.5],[2009.2,6.0],[2010.0,-4.5],[2011.1,7.3],[2011.15,-8.8],[2012.2,3.5],[2013.2,3.5],[2013.25,-5.0],[2013.9,-4.8]];
const JPN_minor=[[1990.4,5.5],[1991.3,6.0],[1992.0,-5.5],[1992.9,5.5],[1993.4,-5.0],[1994.2,5.0],[1994.8,-4.5],[1995.5,5.0],[1996.3,-4.0],[1997.0,4.5],[1997.4,-5.0],[1998.3,5.5],[1999.2,-5.0],[2000.0,5.5],[2000.7,-5.5],[2001.8,-5.0],[2002.6,4.5],[2003.3,-4.5],[2004.0,4.5],[2005.0,-4.0],[2006.0,4.0],[2006.8,-4.5],[2007.6,5.0],[2008.2,-6.0],[2009.6,-5.0],[2010.5,4.5],[2011.6,-4.5],[2012.6,4.0],[2013.5,-4.5],[2014.2,4.0]];

const COUNTRIES=['Australia','Canada','Chile','Colombia','Hong Kong','Indonesia','South Korea','Malaysia','Mexico','Philippines','Singapore','Taiwan','Thailand','China','New Zealand','US','Japan'];
const BANDS=[AUS_band,CAN_band,CHL_band,COL_band,HKG_band,IDN_band,KOR_band,MYS_band,MEX_band,PHL_band,SGP_band,TWN_band,THA_band,CHN_band,NZL_band,USA_band,JPN_band];
const SPIKES=[AUS_spikes,CAN_spikes,CHL_spikes,COL_spikes,HKG_spikes,IDN_spikes,KOR_spikes,MYS_spikes,MEX_spikes,PHL_spikes,SGP_spikes,TWN_spikes,THA_spikes,CHN_spikes,NZL_spikes,USA_spikes,JPN_spikes];
const MINORS=[AUS_minor,CAN_minor,CHL_minor,COL_minor,HKG_minor,IDN_minor,KOR_minor,MYS_minor,MEX_minor,PHL_minor,SGP_minor,TWN_minor,THA_minor,CHN_minor,NZL_minor,USA_minor,JPN_minor];
// axis ranges [min,max] and major tick step
const Y_RANGES=[[-17.2,10.2],[-15.4,11.6],[-13.1,18.1],[-14.4,18.25],[-15.2,17.5],[-46.5,26.7],[-23.8,28],[-40.3,29.5],[-21.2,17],[-16.2,24.1],[-11.7,12.9],[-12.2,14.8],[-19.9,19.7],[-44.4,76.3],[-17.1,12.2],[-10.5,11.9],[-10.6,13.3]];
const Y_MAJOR=[10,5,10,10,10,20,10,20,10,10,5,5,10,25,10,5,5];
const X_RANGES=[[1988.25,2015.6],[1988.25,2015.6],[1988.25,2015.6],[1991.9,2015.6],[1988.25,2015.6],[1988.25,2015.6],[1988.25,2015.6],[1988.25,2015.6],[1988.25,2015.6],[1988.25,2015.6],[1988.25,2015.6],[1988.25,2015.6],[1988.25,2015.6],[1989.83,2015.57],[1988.25,2015.6],[1988.25,2015.6],[1988.25,2015.6]];
const X_MAJOR=5;
const CAPTION='Figure 1: Daily Time Series of Percentage Return Series';

// ---------- LAYOUT ----------
const PLOT_POS=[[42,43],[412,43],[783,43],[42,352],[412,352],[783,352],[42,661],[412,661],[783,661],[42,969],[412,969],[783,969],[42,1279],[412,1279],[783,1279],[227,1588],[600,1588]];
const PW=295, PH=218, YW=44, XH=30, PADT=12, PADR=24;
const BLUE='#439cdf';
const TICK_FONT={family:'"Liberation Sans", Arial, sans-serif',size:15};

// caption (clipped at the top edge of the page)
(function(){
  const c=document.getElementById('fig'); const x=c.getContext('2d');
  x.font='bold 24px Lato, "Open Sans", sans-serif'; x.fillStyle='#111'; x.textBaseline='alphabetic';
  x.fillText(CAPTION,-19,2);
})();

const frame={id:'frame',afterDatasetsDraw(c){const a=c.chartArea,x=c.ctx;x.save();x.strokeStyle='#a9a9a9';x.lineWidth=1;
  x.strokeRect(Math.round(a.left)+0.5,Math.round(a.top)+0.5,Math.round(a.right)-Math.round(a.left)-1,Math.round(a.bottom)-Math.round(a.top)-1);x.restore();}};

function isMajor(v,step){return Math.abs(Math.round(v/step)*step-v)<1e-6;}
function toSegments(list){const out=[];list.forEach(r=>{out.push({x:r[0],y:0},{x:r[0],y:r[1]},{x:r[0],y:null});});return out;}

COUNTRIES.forEach((name,i)=>{
  const [L,T]=PLOT_POS[i];
  const t=document.createElement('div'); t.className='ttl'; t.textContent=name;
  t.style.left=L+'px'; t.style.width=PW+'px'; t.style.top=(T-29)+'px';
  document.body.appendChild(t);
  const cv=document.createElement('canvas');
  const cw=YW+PW+PADR, ch=PADT+PH+XH;
  cv.width=cw; cv.height=ch; cv.style.width=cw+'px'; cv.style.height=ch+'px';
  cv.style.left=(L-YW)+'px'; cv.style.top=(T-PADT)+'px';
  document.body.appendChild(cv);
  const band=BANDS[i], ym=Y_MAJOR[i];
  const upper=band.map(r=>({x:r[0],y:r[1]}));
  const lower=band.map(r=>({x:r[0],y:r[2]}));
  const gridCol=(step)=>ctx=>isMajor(ctx.tick.value,step)?'#e4e4e4':'#f3f3f3';
  const tickCol=(step)=>ctx=>isMajor(ctx.tick.value,step)?'#444':'rgba(0,0,0,0)';
  new Chart(cv,{type:'line',
    data:{datasets:[
      {data:upper,borderColor:BLUE,backgroundColor:BLUE,borderWidth:1,pointRadius:0,fill:'+1',tension:0},
      {data:lower,borderColor:BLUE,borderWidth:1,pointRadius:0,fill:false,tension:0},
      {data:toSegments(SPIKES[i]),borderColor:BLUE,borderWidth:1.3,pointRadius:0,fill:false,spanGaps:false,tension:0},
      {data:toSegments(MINORS[i]),borderColor:BLUE,borderWidth:1.1,pointRadius:0,fill:false,spanGaps:false,tension:0}
    ]},
    options:{responsive:false,animation:false,devicePixelRatio:2,
      layout:{padding:{top:PADT,right:PADR,left:0,bottom:0}},
      plugins:{legend:{display:false},tooltip:{enabled:false},title:{display:false}},
      scales:{
        x:{type:'linear',min:X_RANGES[i][0],max:X_RANGES[i][1],
          afterFit:s=>{s.height=XH;},
          border:{display:false},
          grid:{color:gridCol(X_MAJOR),tickColor:tickCol(X_MAJOR),tickLength:4,drawTicks:true},
          ticks:{stepSize:X_MAJOR/2,includeBounds:false,autoSkip:false,maxRotation:0,maxTicksLimit:40,padding:5,
            color:'#4d4d4d',font:TICK_FONT,
            callback:v=>isMajor(v,X_MAJOR)?String(Math.round(v)):''}},
        y:{type:'linear',min:Y_RANGES[i][0],max:Y_RANGES[i][1],
          afterFit:s=>{s.width=YW;},
          border:{display:false},
          grid:{color:gridCol(ym),tickColor:tickCol(ym),tickLength:4,drawTicks:true},
          ticks:{stepSize:ym/2,includeBounds:false,autoSkip:false,maxTicksLimit:40,padding:4,
            color:'#4d4d4d',font:TICK_FONT,
            callback:v=>isMajor(v,ym)?String(Math.round(v)):''}}
      }},
    plugins:[frame]});
});
</script>
</body></html>
